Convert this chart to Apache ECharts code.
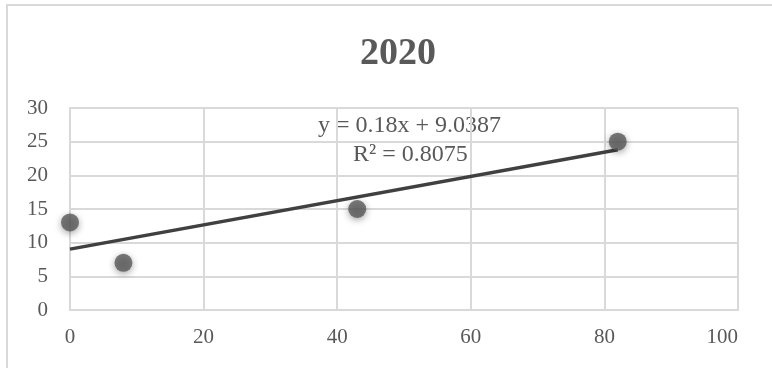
<!DOCTYPE html>
<html>
<head>
<meta charset="utf-8">
<script src="https://cdn.jsdelivr.net/npm/echarts@6/dist/echarts.min.js"></script>
<style>
  html, body { margin: 0; padding: 0; background: #fff; }
  #chart { width: 772px; height: 368px; }
</style>
</head>
<body>
<div id="chart"></div>
<script>
// Chart data
const chartTitle = '2020';
const xValues = [0, 8, 43, 82];
const yValues = [13, 7, 15, 25];
// Linear trendline as stated by its label
const trendSlope = 0.18;
const trendIntercept = 9.0387;
const rSquared = 0.8075;
const xTicks = [0, 20, 40, 60, 80, 100];
const yTicks = [0, 5, 10, 15, 20, 25, 30];

const points = xValues.map((x, i) => [x, yValues[i]]);
const xMin = Math.min(...xValues), xMax = Math.max(...xValues);
const trendPoints = [xMin, xMax].map(x => [x, trendSlope * x + trendIntercept]);

const serif = '"Liberation Serif", "DejaVu Serif", serif';
const textGray = '#595959';
const gridGray = '#d9d9d9';

const chart = echarts.init(document.getElementById('chart'), null, { renderer: 'canvas' });
chart.setOption({
  backgroundColor: '#ffffff',
  animation: false,
  title: {
    text: chartTitle,
    left: 355,
    top: 30,
    textStyle: { fontFamily: serif, fontSize: 38, fontWeight: 'bold', color: textGray }
  },
  grid: { left: 70, right: 34, top: 108, bottom: 58 },
  xAxis: {
    type: 'value',
    min: xTicks[0], max: xTicks[xTicks.length - 1], interval: xTicks[1] - xTicks[0],
    axisLine: { show: true, lineStyle: { color: gridGray, width: 2 } },
    axisTick: { show: false },
    axisLabel: { margin: 17, fontFamily: serif, fontSize: 21, color: textGray, alignMaxLabel: 'right' },
    splitLine: { show: true, lineStyle: { color: gridGray, width: 2 } }
  },
  yAxis: {
    type: 'value',
    min: yTicks[0], max: yTicks[yTicks.length - 1], interval: yTicks[1] - yTicks[0],
    axisLine: { show: true, lineStyle: { color: gridGray, width: 2 } },
    axisTick: { show: false },
    axisLabel: { margin: 22, fontFamily: serif, fontSize: 21, color: textGray },
    splitLine: { show: true, lineStyle: { color: gridGray, width: 2 } }
  },
  graphic: [
    {
      type: 'rect', silent: true, z: -1,
      shape: { x: 7, y: 5, width: 800, height: 400 },
      style: { fill: 'none', stroke: gridGray, lineWidth: 2 }
    },
    {
      type: 'text', left: 318, top: 114,
      style: { text: 'y = 0.18x + 9.0387', fontFamily: serif, fontSize: 24, fill: textGray }
    },
    {
      type: 'text', left: 353, top: 143,
      style: { text: 'R² = ' + rSquared.toFixed(4), fontFamily: serif, fontSize: 24, fill: textGray }
    }
  ],
  series: [
    {
      type: 'line',
      data: trendPoints,
      symbol: 'none',
      lineStyle: { color: '#404040', width: 3.5 },
      z: 2
    },
    {
      type: 'scatter',
      data: points,
      symbol: 'circle',
      symbolSize: 18,
      itemStyle: {
        color: '#595959',
        shadowBlur: 7,
        shadowColor: 'rgba(0,0,0,0.45)',
        shadowOffsetY: 2
      },
      z: 3
    }
  ]
});
</script>
</body>
</html>
